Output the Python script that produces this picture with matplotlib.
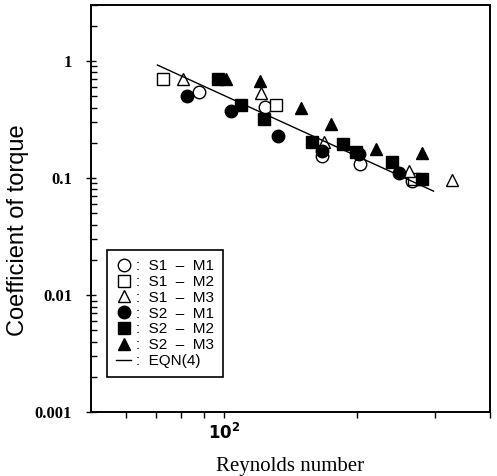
import matplotlib
matplotlib.use("Agg")
import matplotlib.pyplot as plt
from matplotlib.ticker import FixedLocator, FixedFormatter, NullFormatter

# S1 series (open markers)
s1m1_re = [87.9, 123.6, 166.9, 203.2, 266.0]
s1m1_ct = [0.543, 0.404, 0.154, 0.132, 0.094]
s1m2_re = [72.6, 130.9, 268.6]
s1m2_ct = [0.701, 0.421, 0.098]
s1m3_re = [80.9, 121.1, 168.7, 261.8, 328.8]
s1m3_ct = [0.701, 0.533, 0.203, 0.115, 0.096]

# S2 series (filled markers)
s2m1_re = [82.6, 103.7, 132.2, 166.9, 202.1, 248.6]
s2m1_ct = [0.502, 0.374, 0.229, 0.170, 0.160, 0.110]
s2m2_re = [96.9, 109.2, 123.0, 158.5, 186.1, 199.0, 239.8, 280.1]
s2m2_ct = [0.701, 0.421, 0.319, 0.203, 0.195, 0.167, 0.137, 0.098]
s2m3_re = [101.0, 120.5, 149.7, 174.8, 220.8, 280.1]
s2m3_ct = [0.701, 0.675, 0.397, 0.289, 0.177, 0.164]

# EQN(4) line end points
eqn_re = [70.7, 298.0]
eqn_ct = [0.925, 0.0774]

fig = plt.figure(figsize=(4.97, 4.76), dpi=100)
ax = fig.add_axes([0.183, 0.134, 0.803, 0.855])

ms = 9
ax.plot(s1m1_re, s1m1_ct, 'o', mfc='white', mec='black', ms=ms, mew=1.0, label=':  S1  –  M1')
ax.plot(s1m2_re, s1m2_ct, 's', mfc='white', mec='black', ms=ms, mew=1.0, label=':  S1  –  M2')
ax.plot(s1m3_re, s1m3_ct, '^', mfc='white', mec='black', ms=ms, mew=1.0, label=':  S1  –  M3')
ax.plot(s2m1_re, s2m1_ct, 'o', color='black', ms=ms, label=':  S2  –  M1')
ax.plot(s2m2_re, s2m2_ct, 's', color='black', ms=ms, label=':  S2  –  M2')
ax.plot(s2m3_re, s2m3_ct, '^', color='black', ms=ms, label=':  S2  –  M3')
ax.plot(eqn_re, eqn_ct, '-', color='black', lw=1.0, label=':  EQN(4)')

ax.set_xscale('log')
ax.set_yscale('log')
ax.set_xlim(50, 400)
ax.set_ylim(0.001, 3)

for s in ax.spines.values():
    s.set_linewidth(1.4)

# x ticks
ax.xaxis.set_major_locator(FixedLocator([100]))
ax.xaxis.set_major_formatter(FixedFormatter(['$\\mathbf{10^2}$']))
ax.xaxis.set_minor_locator(FixedLocator([60, 70, 80, 90, 200, 300, 400]))
ax.xaxis.set_minor_formatter(NullFormatter())
ax.tick_params(axis='x', which='both', direction='out', length=4, width=1)

# y ticks
ax.yaxis.set_major_locator(FixedLocator([0.001, 0.01, 0.1, 1]))
ax.yaxis.set_major_formatter(FixedFormatter(['0.001', '0.01', '0.1', '1']))
ax.tick_params(axis='y', which='major', direction='inout', length=7, width=1, pad=10)
ax.tick_params(axis='y', which='minor', direction='in', length=4, width=1)
for lab in ax.get_xticklabels() + ax.get_yticklabels():
    lab.set_fontfamily('Liberation Serif')
    lab.set_fontweight('bold')
    lab.set_fontsize(12)

ax.set_xlabel('Reynolds number', fontfamily='Liberation Serif', fontsize=15, labelpad=10)
ax.set_ylabel('Coefficient of torque', fontfamily='Liberation Sans', fontsize=17)
ax.yaxis.set_label_coords(-0.155, 0.447)

leg = ax.legend(loc='lower left', bbox_to_anchor=(0.04, 0.086), borderaxespad=0,
                fancybox=False, edgecolor='black', framealpha=1, handlelength=1.0,
                handletextpad=0.3, borderpad=0.6, labelspacing=0.12,
                prop={'family': 'Liberation Sans', 'size': 11})
leg.get_frame().set_linewidth(1.2)

fig.savefig('out.png', dpi=100)
